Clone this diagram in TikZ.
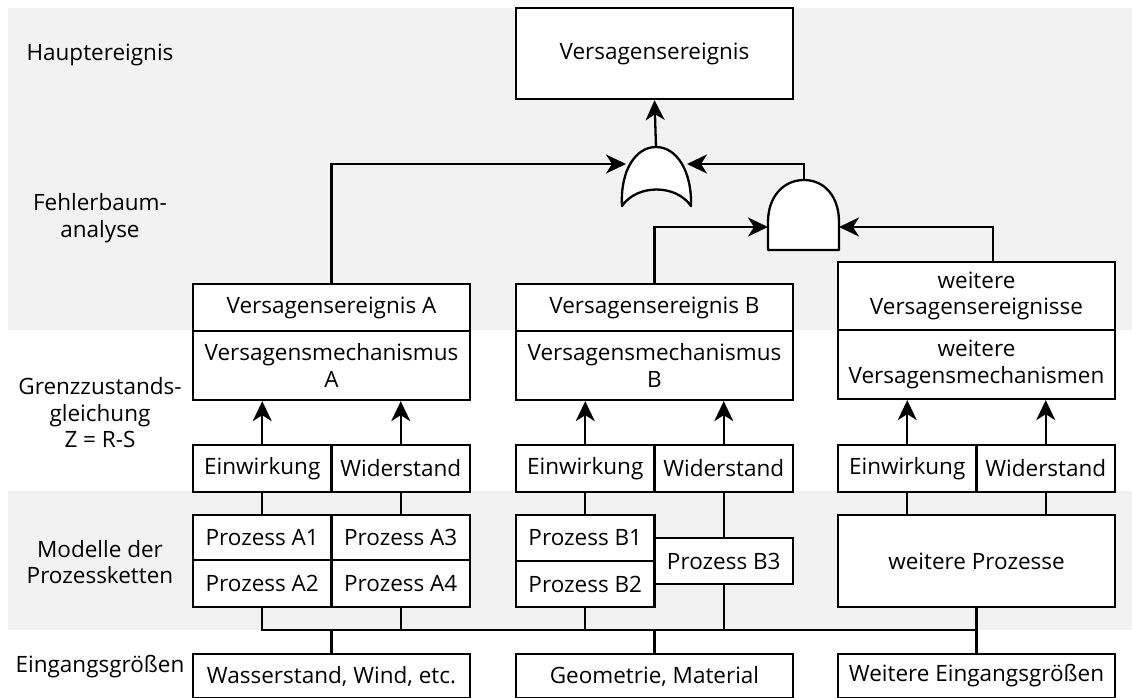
\documentclass[tikz,border=0pt]{standalone}
\usepackage{fontspec}
\setmainfont{Open Sans}
\usetikzlibrary{arrows.meta}
\definecolor{bandgray}{HTML}{F2F2F2}
\tikzset{
  txt/.style={font=\fontsize{22.5}{26.5}\selectfont},
  cell/.style={txt, draw=black, line width=2.3pt, fill=white, inner sep=0pt, align=center},
  rowlabel/.style={txt, align=center, inner sep=0pt},
  wire/.style={draw=black, line width=2.3pt},
  arr/.style={wire, -{Stealth[length=20pt,width=19pt,inset=6pt]}},
  gate/.style={wire, fill=white, line join=round}
}
\begin{document}
\begin{tikzpicture}[x=1pt,y=-1pt]
\useasboundingbox (0,0) rectangle (1132,697);

% shaded bands
\fill[bandgray] (8,8) rectangle (1132,330);
\fill[bandgray] (8,491) rectangle (1132,630);

% row labels
\node[rowlabel] (lHaupt) at (100,55) {Hauptereignis};
\node[rowlabel] (lFTA) at (100,218) {Fehlerbaum-\\analyse};
\node[rowlabel] (lGZ) at (100,413) {Grenzzustands-\\gleichung\\Z = R-S};
\node[rowlabel] (lMod) at (100,562) {Modelle der\\Prozessketten};
\node[rowlabel] (lEin) at (100,667) {Eingangsgrößen};

% OR gate
\draw[gate] (622,206) .. controls (620,170) and (636,147) .. (656,147)
  .. controls (676,147) and (692,170) .. (691,206)
  .. controls (676,184) and (637,184) .. cycle;
\coordinate (orTop) at (656,147);
\coordinate (orL) at (626,164);
\coordinate (orR) at (687,164);

% AND gate
\draw[gate] (768,250) -- (768,222) .. controls (768,196) and (784,180) .. (804,180)
  .. controls (824,180) and (839,196) .. (839,222) -- (839,250) -- cycle;
\coordinate (andTop) at (804,180);
\coordinate (andL) at (768,227);
\coordinate (andR) at (839,227);

% top event
\node[cell, minimum width=277pt, minimum height=91pt] (top) at (654.5,53.5) {Versagensereignis};

% column A
\node[cell, minimum width=277pt, minimum height=47pt] (evA) at (331.5,307.5) {Versagensereignis A};
\node[cell, minimum width=277pt, minimum height=69pt] (meA) at (331.5,365.5) {Versagensmechanismus\\A};
\node[cell, minimum width=138.5pt, minimum height=47pt] (einA) at (262.25,468.5) {Einwirkung};
\node[cell, minimum width=138.5pt, minimum height=47pt] (widA) at (400.75,468.5) {Widerstand};
\node[cell, minimum width=138.5pt, minimum height=45pt] (pA1) at (262.25,537.5) {Prozess A1};
\node[cell, minimum width=138.5pt, minimum height=45pt] (pA3) at (400.75,537.5) {Prozess A3};
\node[cell, minimum width=138.5pt, minimum height=47pt] (pA2) at (262.25,583.5) {Prozess A2};
\node[cell, minimum width=138.5pt, minimum height=47pt] (pA4) at (400.75,583.5) {Prozess A4};

% column B
\node[cell, minimum width=277pt, minimum height=47pt] (evB) at (654.5,307.5) {Versagensereignis B};
\node[cell, minimum width=277pt, minimum height=69pt] (meB) at (654.5,365.5) {Versagensmechanismus\\B};
\node[cell, minimum width=138.5pt, minimum height=47pt] (einB) at (585.25,468.5) {Einwirkung};
\node[cell, minimum width=138.5pt, minimum height=47pt] (widB) at (723.75,468.5) {Widerstand};
\node[cell, minimum width=138.5pt, minimum height=46pt] (pB1) at (585.25,538) {Prozess B1};
\node[cell, minimum width=138.5pt, minimum height=46pt] (pB2) at (585.25,584) {Prozess B2};
\node[cell, minimum width=138.5pt, minimum height=46pt] (pB3) at (723.75,561) {Prozess B3};

% column C
\node[cell, minimum width=277pt, minimum height=68pt] (evC) at (976.5,296) {weitere\\Versagensereignisse};
\node[cell, minimum width=277pt, minimum height=69pt] (meC) at (976.5,364.5) {weitere\\Versagensmechanismen};
\node[cell, minimum width=138.5pt, minimum height=47pt] (einC) at (907.25,468.5) {Einwirkung};
\node[cell, minimum width=138.5pt, minimum height=47pt] (widC) at (1045.75,468.5) {Widerstand};
\node[cell, minimum width=277pt, minimum height=92pt] (pC) at (976.5,561) {weitere Prozesse};

% input quantities
\node[cell, minimum width=277pt, minimum height=44pt] (in1) at (331.5,676) {Wasserstand, Wind, etc.};
\node[cell, minimum width=277pt, minimum height=44pt] (in2) at (654.5,676) {Geometrie, Material};
\node[cell, minimum width=277pt, minimum height=44pt] (in3) at (976.5,676) {Weitere Eingangsgrößen};

% fault tree connectors
\draw[arr] (orTop) -- (top.south);
\draw[arr] (evA.north) |- (orL);
\draw[arr] (andTop) |- (orR);
\draw[arr] (evB.north) |- (andL);
\draw[arr] ([xshift=16.5pt]evC.north) |- (andR);

% limit state: action and resistance into mechanisms
\draw[arr] (einA.north) -- (einA.north |- meA.south);
\draw[arr] (widA.north) -- (widA.north |- meA.south);
\draw[arr] (einB.north) -- (einB.north |- meB.south);
\draw[arr] (widB.north) -- (widB.north |- meB.south);
\draw[arr] (einC.north) -- (einC.north |- meC.south);
\draw[arr] (widC.north) -- (widC.north |- meC.south);

% process models to action / resistance
\draw[wire] (einA.south) -- (einA.south |- pA1.north);
\draw[wire] (widA.south) -- (widA.south |- pA3.north);
\draw[wire] (einB.south) -- (einB.south |- pB1.north);
\draw[wire] (widB.south) -- (widB.south |- pB3.north);
\draw[wire] (einC.south) -- (einC.south |- pC.north);
\draw[wire] (widC.south) -- (widC.south |- pC.north);

% bus from input quantities to process models
\coordinate (busR) at (976.5,630);
\draw[wire] (pA2.south) |- (busR);
\draw[wire] (pA4.south) -- (pA4.south |- busR);
\draw[wire] (pB2.south) -- (pB2.south |- busR);
\draw[wire] (pB3.south) -- (pB3.south |- busR);
\draw[wire] (pC.south) -- (in3.north);
\draw[wire] (in1.north) -- (in1.north |- busR);
\draw[wire] (in2.north) -- (in2.north |- busR);
\end{tikzpicture}
\end{document}
